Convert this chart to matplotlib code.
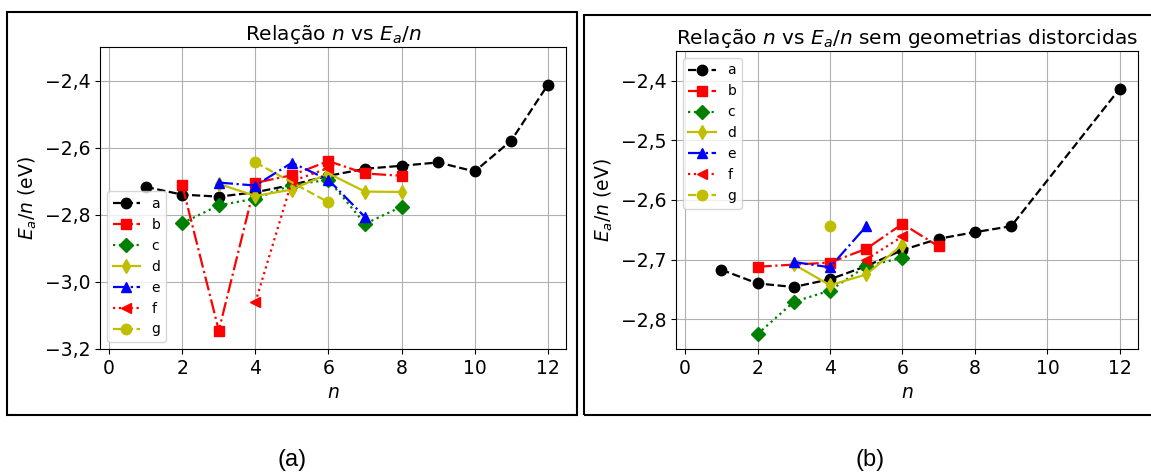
import numpy as np
import matplotlib
matplotlib.use("Agg")
import matplotlib.pyplot as plt
from matplotlib.patches import Rectangle
from matplotlib.ticker import FuncFormatter, MultipleLocator

# data: (n, Ea/n) for every series
labels = ["a", "b", "c", "d", "e", "f", "g"]

# (a) all geometries
n_a = [1, 2, 3, 4, 5, 6, 7, 8, 9, 10, 11, 12]
e_a = [-2.717, -2.740, -2.746, -2.733, -2.711, -2.684, -2.663, -2.654, -2.644, -2.671, -2.579, -2.413]
n_b = [2, 3, 4, 5, 6, 7, 8]
e_b = [-2.712, -3.145, -2.705, -2.682, -2.640, -2.677, -2.684]
n_c = [2, 3, 4, 5, 6, 7, 8]
e_c = [-2.825, -2.772, -2.752, -2.711, -2.696, -2.827, -2.776]
n_d = [3, 4, 5, 6, 7, 8]
e_d = [-2.708, -2.744, -2.725, -2.677, -2.731, -2.732]
n_e = [3, 4, 5, 6, 7]
e_e = [-2.704, -2.713, -2.645, -2.696, -2.807]
n_f = [4, 5, 6]
e_f = [-3.061, -2.700, -2.661]
n_g = [4, 6]
e_g = [-2.644, -2.763]

# (b) without distorted geometries
n_a2 = [1, 2, 3, 4, 5, 6, 7, 8, 9, 12]
e_a2 = [-2.717, -2.740, -2.746, -2.733, -2.711, -2.684, -2.665, -2.654, -2.644, -2.413]
n_b2 = [2, 4, 5, 6, 7]
e_b2 = [-2.712, -2.705, -2.682, -2.640, -2.678]
n_c2 = [2, 3, 4, 5, 6]
e_c2 = [-2.825, -2.771, -2.752, -2.711, -2.697]
n_d2 = [3, 4, 5, 6]
e_d2 = [-2.708, -2.743, -2.725, -2.675]
n_e2 = [3, 4, 5]
e_e2 = [-2.704, -2.713, -2.644]
n_f2 = [5, 6]
e_f2 = [-2.700, -2.661]
n_g2 = [4]
e_g2 = [-2.644]

styles = ["k--o", "r-.s", "g:D", "y-d", "b-.^", "r:<", "y--o"]


def comma(v, pos):
    return ("%.1f" % v).replace(".", ",").replace("-", "\u2212")


def draw(ax, series, title, ylim, ystep, legend_loc):
    for (xs, ys), st, lab in zip(series, styles, labels):
        ax.plot(xs, ys, st, label=lab, markersize=7.5, linewidth=1.6)
    ax.set_xlim(-0.25, 12.5)
    ax.set_ylim(*ylim)
    ax.xaxis.set_major_locator(MultipleLocator(2))
    ax.yaxis.set_major_locator(MultipleLocator(ystep))
    ax.yaxis.set_major_formatter(FuncFormatter(comma))
    ax.grid(True, color="#b0b0b0", linewidth=0.8)
    ax.tick_params(labelsize=13.5)
    ax.set_xlabel("$n$", fontsize=13.5)
    ax.set_ylabel("$E_a/n$ (eV)", fontsize=13.5)
    ax.set_title(title, fontsize=14.5, pad=5)
    ax.legend(loc=legend_loc, fontsize=10)


fig = plt.figure(figsize=(11.51, 4.73), dpi=100)

ax1 = fig.add_axes([0.0869, 0.2622, 0.4049, 0.6385])
ax2 = fig.add_axes([0.5873, 0.2622, 0.4014, 0.6300])

draw(ax1, [(n_a, e_a), (n_b, e_b), (n_c, e_c), (n_d, e_d), (n_e, e_e), (n_f, e_f), (n_g, e_g)],
     "Relação $n$ vs $E_a/n$", (-3.2, -2.3), 0.2, "lower left")
draw(ax2, [(n_a2, e_a2), (n_b2, e_b2), (n_c2, e_c2), (n_d2, e_d2), (n_e2, e_e2), (n_f2, e_f2), (n_g2, e_g2)],
     "Relação $n$ vs $E_a/n$ sem geometrias distorcidas", (-2.85, -2.35), 0.1, "upper left")

# frames around each panel
fig.patches.append(Rectangle((7 / 1151, 1 - 415 / 473), 570 / 1151, 403 / 473,
                             transform=fig.transFigure, fill=False, edgecolor="black", linewidth=1.5))
fig.patches.append(Rectangle((584 / 1151, 1 - 415 / 473), 580 / 1151, 400 / 473,
                             transform=fig.transFigure, fill=False, edgecolor="black", linewidth=1.5))

fig.text(292 / 1151, 1 - 460 / 473, "(a)", ha="center", va="center", fontsize=17, family="Liberation Sans")
fig.text(870 / 1151, 1 - 460 / 473, "(b)", ha="center", va="center", fontsize=17, family="Liberation Sans")

fig.savefig("out.png", dpi=100)
